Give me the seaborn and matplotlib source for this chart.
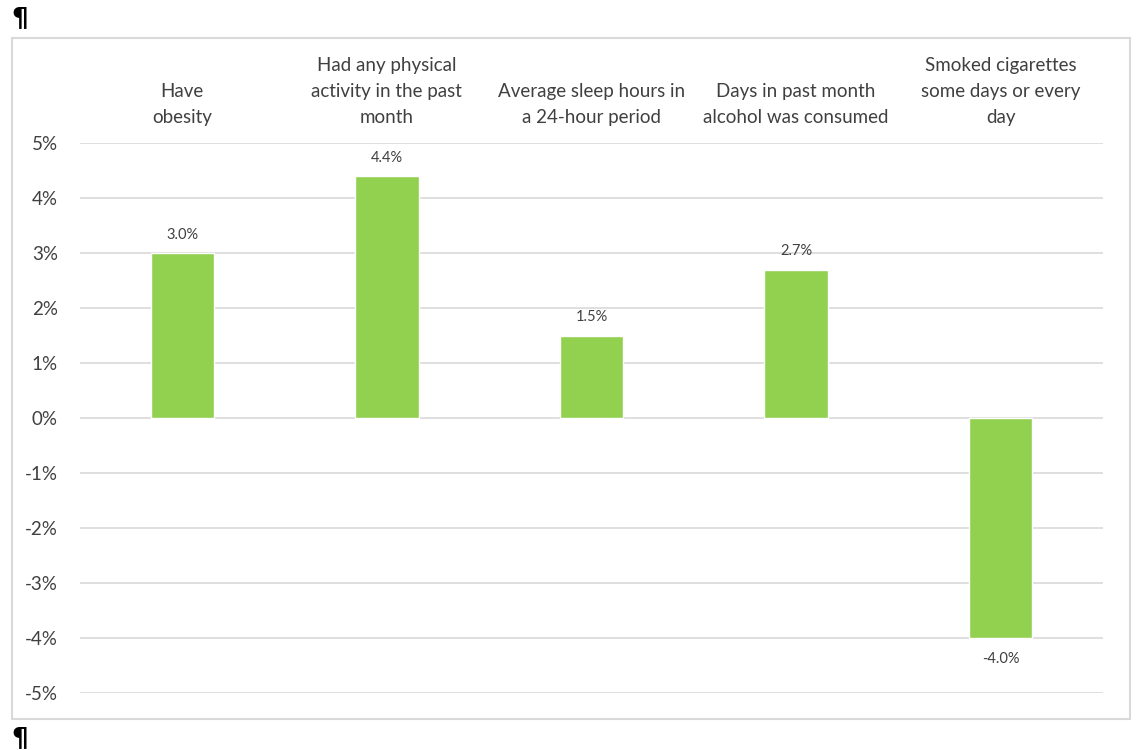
import matplotlib
matplotlib.use("Agg")
import matplotlib.pyplot as plt
import seaborn as sns
import pandas as pd
from matplotlib.patches import Rectangle

categories = ["Have\nobesity",
              "Had any physical\nactivity in the past\nmonth",
              "Average sleep hours in\na 24-hour period",
              "Days in past month\nalcohol was consumed",
              "Smoked cigarettes\nsome days or every\nday"]
values = [3.0, 4.4, 1.5, 2.7, -4.0]
yticks = [-5, -4, -3, -2, -1, 0, 1, 2, 3, 4, 5]

sns.set_theme(style="white")
plt.rcParams['font.family'] = ['Lato', 'DejaVu Sans']

df = pd.DataFrame({"cat": categories, "val": values})

fig = plt.figure(figsize=(11.38, 7.5), dpi=100)
ax = fig.add_axes([80/1138, 1-693/750, 1023/1138, 550/750])

sns.barplot(data=df, x="cat", y="val", color="#92D050", saturation=1,
            width=0.31, ax=ax, zorder=3)

ax.set_ylim(-5, 5)
ax.set_yticks(yticks)
ax.set_yticklabels([f"{t}%" for t in yticks], fontsize=13.5, color="#404040")
ax.grid(axis="y", color="#d9d9d9", linewidth=1.2, zorder=0)
ax.set_axisbelow(True)
for s in ax.spines.values():
    s.set_visible(False)
ax.tick_params(axis="y", length=0, pad=16)
ax.xaxis.tick_top()
ax.tick_params(axis="x", length=0, pad=12, labelsize=13.5, labelcolor="#404040")
ax.set_xlabel("")
ax.set_ylabel("")
for lbl in ax.get_xticklabels():
    lbl.set_horizontalalignment("center")
    lbl.set_multialignment("center")
    lbl.set_linespacing(1.65)

for i, v in enumerate(values):
    off = 13 if v >= 0 else -15
    ax.annotate(f"{v:.1f}%", (i, v), xytext=(0, off), textcoords="offset points",
                ha="center", va="center", fontsize=10.5, color="#404040")

fig.patches.append(Rectangle((12/1138, 1-719/750), 1118/1138, 681/750,
                             transform=fig.transFigure, fill=False,
                             edgecolor="#d9d9d9", linewidth=1.5))
fig.text(11/1138, 1-19/750, "¶", fontsize=19, fontweight="bold", color="black",
         ha="left", va="center", family="DejaVu Sans")
fig.text(11/1138, 1-739/750, "¶", fontsize=19, fontweight="bold", color="black",
         ha="left", va="center", family="DejaVu Sans")

fig.savefig("out.png", dpi=100)
